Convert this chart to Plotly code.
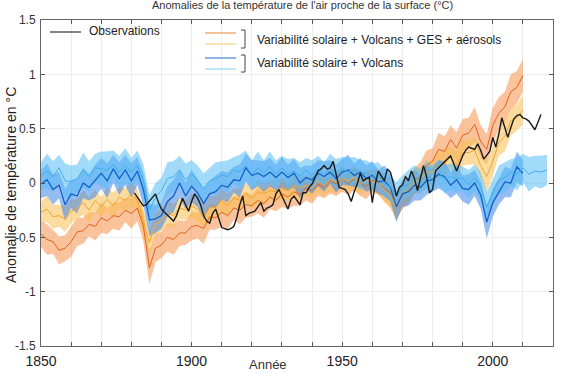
import plotly.graph_objects as go

# ---------------- data ----------------
years_mod = list(range(1850, 2011, 2))
years_cyan = list(range(1850, 2019, 2))
years_obs = list(range(1881, 2017))

orange_mean = [-0.47, -0.52, -0.54, -0.62, -0.60, -0.54, -0.45, -0.44, -0.38, -0.40,
               -0.32, -0.35, -0.30, -0.31, -0.25, -0.28, -0.23, -0.40, -0.78, -0.60,
               -0.57, -0.50, -0.52, -0.46, -0.46, -0.40, -0.39, -0.42, -0.31, -0.32,
               -0.27, -0.30, -0.23, -0.25, -0.20, -0.21, -0.16, -0.19, -0.13, -0.16,
               -0.10, -0.13, -0.08, -0.11, -0.05, -0.07, -0.01, -0.04, 0.02, -0.01,
               0.04, -0.01, 0.04, 0.00, -0.03, 0.02, 0.01, -0.05, -0.09, -0.21,
               -0.11, -0.07, 0.02, 0.06, 0.16, 0.20, 0.31, 0.29, 0.40, 0.32,
               0.44, 0.46, 0.54, 0.38, 0.31, 0.53, 0.64, 0.70, 0.84, 0.88, 0.99]
orange_spread = [0.12, 0.14, 0.11, 0.13, 0.12, 0.14, 0.13, 0.12, 0.11, 0.13,
                 0.14, 0.12, 0.12, 0.13, 0.11, 0.14, 0.12, 0.14, 0.15, 0.13,
                 0.12, 0.13, 0.14, 0.12, 0.11, 0.13, 0.12, 0.14, 0.12, 0.11,
                 0.13, 0.12, 0.11, 0.13, 0.12, 0.10, 0.12, 0.13, 0.11, 0.10,
                 0.12, 0.11, 0.13, 0.10, 0.11, 0.12, 0.11, 0.10, 0.12, 0.11,
                 0.12, 0.10, 0.11, 0.12, 0.12, 0.10, 0.12, 0.12, 0.13, 0.12,
                 0.13, 0.12, 0.12, 0.13, 0.14, 0.12, 0.15, 0.14, 0.13, 0.15,
                 0.15, 0.14, 0.16, 0.15, 0.14, 0.16, 0.15, 0.14, 0.16, 0.15, 0.15]

yellow_mean = [-0.27, -0.24, -0.31, -0.30, -0.33, -0.26, -0.24, -0.18, -0.25, -0.16,
               -0.22, -0.15, -0.21, -0.13, -0.16, -0.10, -0.16, -0.35, -0.55, -0.38,
               -0.34, -0.28, -0.30, -0.23, -0.25, -0.21, -0.24, -0.31, -0.23, -0.22,
               -0.16, -0.21, -0.14, -0.16, -0.10, -0.14, -0.08, -0.10, -0.07, -0.08,
               -0.05, -0.07, -0.02, -0.05, -0.02, -0.04, 0.02, -0.03, 0.03, 0.01,
               0.04, 0.02, 0.05, -0.01, 0.03, 0.01, 0.01, -0.07, -0.11, -0.23,
               -0.09, -0.07, 0.02, 0.02, 0.10, 0.10, 0.16, 0.18, 0.24, 0.16,
               0.28, 0.28, 0.30, 0.16, 0.06, 0.20, 0.37, 0.43, 0.57, 0.60, 0.67]
yellow_spread = [0.10, 0.12, 0.11, 0.10, 0.12, 0.11, 0.09, 0.11, 0.12, 0.10,
                 0.09, 0.11, 0.12, 0.10, 0.11, 0.12, 0.10, 0.12, 0.13, 0.11,
                 0.10, 0.12, 0.11, 0.10, 0.09, 0.11, 0.12, 0.10, 0.11, 0.10,
                 0.10, 0.11, 0.09, 0.11, 0.10, 0.09, 0.11, 0.10, 0.09, 0.11,
                 0.10, 0.09, 0.11, 0.10, 0.09, 0.11, 0.10, 0.09, 0.11, 0.10,
                 0.10, 0.09, 0.11, 0.10, 0.09, 0.11, 0.10, 0.11, 0.12, 0.12,
                 0.12, 0.10, 0.11, 0.12, 0.11, 0.10, 0.13, 0.12, 0.11, 0.13,
                 0.12, 0.11, 0.13, 0.12, 0.14, 0.13, 0.12, 0.14, 0.13, 0.12, 0.13]

blue_mean = [-0.01, 0.03, -0.06, -0.02, -0.20, -0.10, -0.12, 0.00, -0.04, 0.02,
             0.09, 0.02, 0.13, 0.04, 0.12, 0.02, 0.11, -0.06, -0.34, -0.33,
             -0.30, -0.17, -0.12, 0.00, -0.12, -0.03, -0.09, -0.19, -0.10, -0.08,
             -0.02, -0.04, 0.03, 0.02, 0.14, 0.07, 0.09, 0.06, 0.10, 0.05,
             0.10, 0.05, 0.09, 0.00, 0.05, 0.03, 0.09, 0.06, 0.10, 0.04,
             0.10, 0.12, 0.07, 0.10, 0.04, 0.07, 0.01, 0.02, -0.04, -0.22,
             -0.10, -0.08, -0.02, -0.04, 0.02, 0.03, 0.08, 0.06, -0.02, 0.03,
             -0.05, -0.06, 0.00, -0.11, -0.36, -0.18, -0.08, 0.01, 0.00, 0.15, 0.09]
blue_spread = [0.13, 0.15, 0.14, 0.12, 0.15, 0.13, 0.16, 0.14, 0.12, 0.15,
               0.14, 0.16, 0.13, 0.15, 0.14, 0.16, 0.13, 0.15, 0.15, 0.13,
               0.12, 0.14, 0.15, 0.13, 0.12, 0.15, 0.13, 0.14, 0.12, 0.15,
               0.13, 0.14, 0.12, 0.15, 0.13, 0.14, 0.12, 0.14, 0.13, 0.12,
               0.14, 0.12, 0.13, 0.14, 0.11, 0.13, 0.12, 0.14, 0.11, 0.13,
               0.12, 0.14, 0.11, 0.13, 0.12, 0.13, 0.11, 0.14, 0.13, 0.14,
               0.12, 0.13, 0.14, 0.12, 0.13, 0.11, 0.13, 0.14, 0.12, 0.13,
               0.12, 0.14, 0.12, 0.13, 0.15, 0.13, 0.12, 0.14, 0.13, 0.14, 0.12]

cyan_mean = [0.06, 0.11, 0.06, 0.14, 0.02, 0.01, 0.04, 0.12, 0.06, 0.14,
             0.13, 0.12, 0.17, 0.10, 0.16, 0.10, 0.16, 0.02, -0.25, -0.13,
             -0.07, 0.04, 0.06, 0.12, 0.03, 0.09, 0.02, -0.05, 0.02, 0.04,
             0.07, 0.06, 0.12, 0.10, 0.16, 0.08, 0.14, 0.09, 0.15, 0.08,
             0.14, 0.08, 0.11, 0.06, 0.12, 0.07, 0.13, 0.08, 0.14, 0.08,
             0.13, 0.10, 0.12, 0.07, 0.10, 0.05, 0.07, 0.00, -0.04, -0.12,
             -0.04, -0.01, 0.04, 0.02, 0.07, 0.04, 0.10, 0.03, 0.06, 0.04,
             0.04, -0.01, 0.05, -0.03, -0.22, -0.09, 0.03, 0.05, 0.10, 0.08,
             0.14, 0.08, 0.11, 0.10, 0.12]
cyan_spread = [0.13, 0.16, 0.14, 0.12, 0.16, 0.15, 0.13, 0.16, 0.14, 0.13,
               0.16, 0.17, 0.13, 0.15, 0.16, 0.13, 0.14, 0.15, 0.14, 0.13,
               0.12, 0.15, 0.14, 0.13, 0.15, 0.12, 0.14, 0.14, 0.12, 0.15,
               0.13, 0.15, 0.12, 0.16, 0.14, 0.13, 0.15, 0.12, 0.14, 0.13,
               0.11, 0.14, 0.12, 0.13, 0.11, 0.14, 0.12, 0.11, 0.13, 0.14,
               0.11, 0.13, 0.12, 0.14, 0.11, 0.13, 0.12, 0.13, 0.12, 0.13,
               0.11, 0.13, 0.12, 0.11, 0.13, 0.12, 0.11, 0.13, 0.12, 0.13,
               0.11, 0.13, 0.12, 0.13, 0.14, 0.12, 0.13, 0.14, 0.12, 0.15,
               0.13, 0.16, 0.14, 0.15, 0.14]

obs = [-0.09, -0.13, -0.18, -0.21, -0.20, -0.17, -0.14, -0.10, -0.18, -0.24,
       -0.27, -0.30, -0.33, -0.35, -0.30, -0.22, -0.14, -0.20, -0.26, -0.17,
       -0.10, -0.14, -0.20, -0.30, -0.35, -0.37, -0.28, -0.24, -0.32, -0.41,
       -0.42, -0.43, -0.42, -0.40, -0.32, -0.20, -0.12, -0.30, -0.28, -0.27,
       -0.26, -0.22, -0.18, -0.26, -0.23, -0.22, -0.20, -0.10, -0.06, -0.12,
       -0.18, -0.24, -0.15, -0.12, -0.16, -0.20, -0.09, -0.09, -0.04, -0.01,
       0.05, 0.11, 0.13, 0.16, 0.13, 0.14, 0.20, 0.08, -0.04, -0.05,
       -0.06, -0.10, -0.17, -0.08, -0.01, 0.09, 0.02, 0.04, 0.05, -0.18,
       -0.01, 0.11, 0.06, 0.02, 0.13, 0.10, 0.00, -0.12, -0.04, -0.02,
       0.06, 0.02, 0.11, 0.04, -0.07, 0.05, 0.16, 0.06, -0.09, -0.06,
       0.11, 0.14, 0.17, 0.20, 0.22, 0.25, 0.18, 0.11, 0.18, 0.25,
       0.30, 0.33, 0.32, 0.31, 0.36, 0.30, 0.22, 0.26, 0.29, 0.42,
       0.33, 0.45, 0.60, 0.51, 0.42, 0.51, 0.59, 0.62, 0.63, 0.60,
       0.59, 0.57, 0.53, 0.49, 0.56, 0.63]

x_tick_vals = list(range(1850, 2021, 10))
x_tick_text = [str(v) if v % 50 == 0 else "" for v in x_tick_vals]
y_tick_vals = [-1.5, -1, -0.5, 0, 0.5, 1, 1.5]
y_tick_text = ["-1.5", "-1", "-0.5", "0", "0.5", "1", "1.5"]

legend_obs = "Observations"
legend_all = "Variabilité solaire + Volcans + GES + aérosols"
legend_nat = "Variabilité solaire + Volcans"
title_text = "Anomalies de la température de l'air proche de la surface (°C)"
x_title = "Année"
y_title = "Anomalie de température en °C"

# ---------------- figure ----------------
fig = go.Figure()

series = [
    (years_mod, orange_mean, orange_spread, "rgba(245,145,75,0.55)", "#E5621C", 1.0),
    (years_mod, yellow_mean, yellow_spread, "rgba(250,190,80,0.55)", "#F2A530", 1.0),
    (years_mod, blue_mean, blue_spread, "rgba(60,135,235,0.55)", "#1560C8", 1.3),
    (years_cyan, cyan_mean, cyan_spread, "rgba(85,190,245,0.55)", "#40B0E8", 1.0),
]

for xs, m, s, band_col, line_col, lw in series:
    lo = [a - b for a, b in zip(m, s)]
    hi = [a + b for a, b in zip(m, s)]
    fig.add_trace(go.Scatter(x=xs, y=lo, mode="lines", line=dict(width=0, color=band_col),
                             showlegend=False, hoverinfo="skip"))
    fig.add_trace(go.Scatter(x=xs, y=hi, mode="lines", line=dict(width=0, color=band_col),
                             fill="tonexty", fillcolor=band_col, showlegend=False, hoverinfo="skip"))

for xs, m, s, band_col, line_col, lw in series:
    fig.add_trace(go.Scatter(x=xs, y=m, mode="lines", line=dict(width=lw, color=line_col),
                             showlegend=False))

fig.add_trace(go.Scatter(x=years_obs, y=obs, mode="lines",
                         line=dict(width=1.4, color="#1a1a1a"), showlegend=False))

# plot area in pixels: x 41..553, y 20..346
L, R, T, B = 41, 553, 20, 346
W, H = 584, 373


def px(x):
    return (x - L) / (R - L)


def py(y):
    return (B - y) / (B - T)


shapes = [
    dict(type="line", xref="paper", yref="paper", x0=px(50), x1=px(81), y0=py(32), y1=py(32),
         line=dict(color="#333333", width=1.2)),
    dict(type="line", xref="paper", yref="paper", x0=px(205), x1=px(236), y0=py(33), y1=py(33),
         line=dict(color="#E9A060", width=1.3)),
    dict(type="line", xref="paper", yref="paper", x0=px(205), x1=px(236), y0=py(44), y1=py(44),
         line=dict(color="#F6D68A", width=1.3)),
    dict(type="path", xref="paper", yref="paper",
         path=f"M {px(241)},{py(30)} L {px(245)},{py(30)} L {px(245)},{py(48)} L {px(241)},{py(48)}",
         line=dict(color="#444444", width=1)),
    dict(type="line", xref="paper", yref="paper", x0=px(205), x1=px(236), y0=py(58), y1=py(58),
         line=dict(color="#4F8FD8", width=1.3)),
    dict(type="line", xref="paper", yref="paper", x0=px(205), x1=px(236), y0=py(69), y1=py(69),
         line=dict(color="#9ADCF5", width=1.3)),
    dict(type="path", xref="paper", yref="paper",
         path=f"M {px(241)},{py(55)} L {px(245)},{py(55)} L {px(245)},{py(72)} L {px(241)},{py(72)}",
         line=dict(color="#444444", width=1)),
]

font_main = "Liberation Sans, Arial, sans-serif"
annotations = [
    dict(text=legend_obs, xref="paper", yref="paper", x=px(87), y=py(31), xanchor="left",
         yanchor="middle", showarrow=False, font=dict(size=12, color="#222222", family=font_main)),
    dict(text=legend_all, xref="paper", yref="paper", x=px(255), y=py(40), xanchor="left",
         yanchor="middle", showarrow=False, font=dict(size=12, color="#222222", family=font_main)),
    dict(text=legend_nat, xref="paper", yref="paper", x=px(255), y=py(63), xanchor="left",
         yanchor="middle", showarrow=False, font=dict(size=12, color="#222222", family=font_main)),
    dict(text=title_text, xref="paper", yref="paper", x=px(302), y=py(5), xanchor="center",
         yanchor="middle", showarrow=False, font=dict(size=11, color="#333333", family=font_main)),
    dict(text=x_title, xref="paper", yref="paper", x=px(268), y=py(365), xanchor="center",
         yanchor="middle", showarrow=False, font=dict(size=13, color="#333333", family=font_main)),
    dict(text=y_title, xref="paper", yref="paper", x=px(11), y=py(185), xanchor="center",
         yanchor="middle", showarrow=False, textangle=-90,
         font=dict(size=14, color="#222222", family=font_main)),
]

fig.update_layout(
    width=W, height=H,
    margin=dict(l=L, r=W - R, t=T, b=H - B, pad=0, autoexpand=False),
    paper_bgcolor="white", plot_bgcolor="white",
    showlegend=False,
    shapes=shapes,
    annotations=annotations,
    font=dict(family=font_main, color="#333333"),
)
fig.update_xaxes(range=[1850, 2020], tickvals=x_tick_vals, ticktext=x_tick_text,
                 ticks="inside", ticklen=4, tickcolor="#555555", mirror="ticks",
                 showline=True, linecolor="#666666", linewidth=1,
                 showgrid=True, gridcolor="#ececec", gridwidth=1, zeroline=False,
                 automargin=False, ticklabelstandoff=2,
                 tickfont=dict(size=14, color="#222222"))
fig.update_yaxes(range=[-1.5, 1.5], tickvals=y_tick_vals, ticktext=y_tick_text,
                 ticks="inside", ticklen=4, tickcolor="#555555", mirror="ticks",
                 showline=True, linecolor="#666666", linewidth=1,
                 showgrid=True, gridcolor="#f0f0f0", gridwidth=1, zeroline=False,
                 automargin=False, ticklabelstandoff=2,
                 tickfont=dict(size=12, color="#333333"))

fig.write_html("out.html")
